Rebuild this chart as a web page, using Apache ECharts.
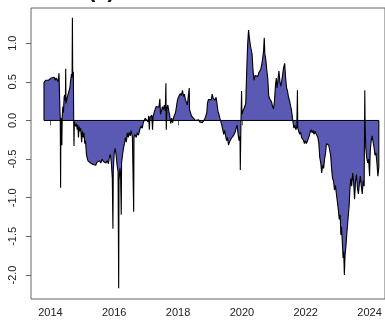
<!DOCTYPE html>
<html>
<head>
<meta charset="utf-8">
<script src="https://cdn.jsdelivr.net/npm/echarts@6/dist/echarts.min.js"></script>
<style>
  html, body { margin: 0; padding: 0; background: #fff; }
  #chart { width: 385px; height: 322px; }
</style>
</head>
<body>
<div id="chart"></div>
<script>
// Decimal-year time stamps of the index
const years = [
  2013.80, 2013.82, 2013.85, 2013.88, 2013.91, 2013.94, 2013.97, 2014.00, 2014.03, 2014.06,
  2014.09, 2014.12, 2014.15, 2014.18, 2014.21, 2014.24, 2014.26, 2014.27, 2014.28, 2014.30,
  2014.31, 2014.32, 2014.33, 2014.35, 2014.36, 2014.37, 2014.39, 2014.41, 2014.43, 2014.45,
  2014.47, 2014.48, 2014.49, 2014.51, 2014.53, 2014.56, 2014.58, 2014.61, 2014.63, 2014.66,
  2014.68, 2014.69, 2014.70, 2014.72, 2014.73, 2014.74, 2014.75, 2014.77, 2014.80, 2014.82,
  2014.84, 2014.86, 2014.88, 2014.90, 2014.93, 2014.95, 2014.98, 2015.00, 2015.03, 2015.05,
  2015.08, 2015.10, 2015.13, 2015.16, 2015.19, 2015.22, 2015.26, 2015.30, 2015.34, 2015.38,
  2015.42, 2015.46, 2015.50, 2015.54, 2015.58, 2015.62, 2015.66, 2015.70, 2015.74, 2015.78,
  2015.82, 2015.85, 2015.88, 2015.91, 2015.94, 2015.96, 2015.97, 2016.00, 2016.03, 2016.06,
  2016.09, 2016.12, 2016.14, 2016.15, 2016.18, 2016.20, 2016.22, 2016.23, 2016.26, 2016.29,
  2016.32, 2016.35, 2016.38, 2016.41, 2016.44, 2016.47, 2016.50, 2016.53, 2016.57, 2016.60,
  2016.61, 2016.62, 2016.65, 2016.69, 2016.72, 2016.76, 2016.80, 2016.84, 2016.88, 2016.91,
  2016.94, 2016.97, 2017.00, 2017.03, 2017.06, 2017.08, 2017.10, 2017.12, 2017.15, 2017.18,
  2017.20, 2017.22, 2017.25, 2017.28, 2017.31, 2017.34, 2017.37, 2017.40, 2017.43, 2017.45,
  2017.48, 2017.51, 2017.54, 2017.57, 2017.60, 2017.62, 2017.63, 2017.65, 2017.68, 2017.71,
  2017.74, 2017.77, 2017.80, 2017.83, 2017.86, 2017.89, 2017.92, 2017.95, 2017.98, 2018.01,
  2018.04, 2018.07, 2018.10, 2018.14, 2018.17, 2018.20, 2018.23, 2018.26, 2018.29, 2018.32,
  2018.35, 2018.36, 2018.39, 2018.42, 2018.45, 2018.48, 2018.51, 2018.54, 2018.57, 2018.60,
  2018.64, 2018.68, 2018.72, 2018.76, 2018.80, 2018.84, 2018.87, 2018.90, 2018.92, 2018.95,
  2018.98, 2019.01, 2019.04, 2019.07, 2019.10, 2019.13, 2019.16, 2019.19, 2019.22, 2019.25,
  2019.28, 2019.31, 2019.34, 2019.37, 2019.40, 2019.43, 2019.46, 2019.49, 2019.52, 2019.55,
  2019.58, 2019.61, 2019.64, 2019.67, 2019.70, 2019.73, 2019.76, 2019.79, 2019.82, 2019.85,
  2019.88, 2019.91, 2019.94, 2019.95, 2019.97, 2019.99, 2020.00, 2020.03, 2020.06, 2020.09,
  2020.12, 2020.14, 2020.16, 2020.18, 2020.20, 2020.21, 2020.23, 2020.25, 2020.27, 2020.29,
  2020.32, 2020.34, 2020.36, 2020.38, 2020.41, 2020.44, 2020.47, 2020.50, 2020.53, 2020.56,
  2020.59, 2020.62, 2020.65, 2020.68, 2020.70, 2020.72, 2020.75, 2020.78, 2020.81, 2020.84,
  2020.87, 2020.90, 2020.93, 2020.96, 2020.99, 2021.02, 2021.05, 2021.08, 2021.10, 2021.13,
  2021.16, 2021.19, 2021.22, 2021.25, 2021.28, 2021.30, 2021.34, 2021.37, 2021.40, 2021.43,
  2021.46, 2021.49, 2021.52, 2021.55, 2021.58, 2021.60, 2021.63, 2021.66, 2021.69, 2021.72,
  2021.74, 2021.75, 2021.78, 2021.81, 2021.84, 2021.87, 2021.90, 2021.93, 2021.96, 2021.99,
  2022.02, 2022.05, 2022.08, 2022.11, 2022.14, 2022.17, 2022.20, 2022.23, 2022.26, 2022.29,
  2022.32, 2022.35, 2022.38, 2022.41, 2022.44, 2022.47, 2022.50, 2022.53, 2022.56, 2022.59,
  2022.62, 2022.65, 2022.68, 2022.72, 2022.75, 2022.78, 2022.81, 2022.84, 2022.87, 2022.90,
  2022.93, 2022.96, 2022.99, 2023.02, 2023.05, 2023.08, 2023.10, 2023.12, 2023.15, 2023.17,
  2023.19, 2023.21, 2023.23, 2023.26, 2023.28, 2023.31, 2023.33, 2023.36, 2023.38, 2023.41,
  2023.44, 2023.47, 2023.50, 2023.53, 2023.56, 2023.59, 2023.62, 2023.65, 2023.68, 2023.71,
  2023.74, 2023.77, 2023.80, 2023.83, 2023.85, 2023.86, 2023.88, 2023.91, 2023.94, 2023.97,
  2024.00, 2024.02, 2024.05, 2024.08, 2024.11, 2024.14, 2024.17, 2024.20, 2024.23, 2024.26,
  2024.29
];

// Index value at each time stamp
const indexValues = [
  0.49, 0.50, 0.52, 0.51, 0.53, 0.52, 0.54, 0.52, 0.55, 0.54,
  0.53, 0.56, 0.52, 0.55, 0.54, 0.50, 0.52, 0.61, 0.46, 0.12,
  0.02, -0.87, -0.02, 0.03, -0.32, 0.04, 0.18, 0.10, 0.30, 0.33,
  0.25, 0.67, 0.22, 0.20, 0.30, 0.28, 0.38, 0.42, 0.50, 0.60,
  0.55, 1.33, 0.58, 0.63, 0.02, -0.33, -0.02, -0.05, -0.08, -0.04,
  -0.12, -0.06, -0.22, -0.08, -0.14, -0.10, -0.28, -0.14, -0.22, -0.16,
  -0.30, -0.26, -0.44, -0.50, -0.53, -0.51, -0.55, -0.53, -0.57, -0.55,
  -0.58, -0.54, -0.56, -0.52, -0.55, -0.50, -0.53, -0.51, -0.55, -0.52,
  -0.56, -0.47, -0.44, -0.55, -0.75, -1.40, -0.65, -0.42, -0.36, -0.45,
  -0.58, -0.66, -2.17, -0.78, -0.62, -0.70, -1.22, -0.55, -0.45, -0.36,
  -0.30, -0.22, -0.28, -0.16, -0.22, -0.15, -0.20, -0.13, -0.22, -0.20,
  -1.18, -0.22, -0.18, -0.22, -0.16, -0.19, -0.12, -0.07, -0.10, -0.03,
  -0.02, 0.03, 0.01, 0.05, -0.02, 0.06, -0.12, 0.04, 0.02, 0.07,
  -0.12, 0.05, 0.10, 0.14, 0.18, 0.16, 0.20, 0.17, 0.28, 0.08,
  0.12, 0.18, 0.14, 0.20, 0.12, 0.48, -0.12, 0.15, 0.20, 0.12,
  0.06, -0.04, 0.03, -0.03, 0.04, 0.02, 0.10, 0.18, 0.26, 0.30,
  0.28, 0.35, 0.32, 0.39, 0.31, 0.34, 0.27, 0.29, 0.20, 0.22,
  0.42, 0.14, 0.10, 0.06, 0.08, 0.03, 0.05, 0.00, 0.02, -0.01,
  0.01, -0.02, 0.00, -0.03, -0.01, 0.02, 0.00, 0.10, 0.22, 0.27,
  0.25, 0.29, 0.27, 0.34, 0.29, 0.30, 0.26, 0.30, 0.22, 0.12,
  0.08, 0.03, 0.04, -0.06, -0.12, -0.18, -0.13, -0.20, -0.26, -0.22,
  -0.32, -0.28, -0.26, -0.23, -0.25, -0.20, -0.22, -0.15, -0.10, -0.06,
  -0.18, -0.26, -0.20, -0.64, -0.04, 0.38, 0.08, 0.12, 0.14, 0.18,
  0.22, 0.50, 0.75, 0.98, 1.12, 1.17, 1.08, 1.02, 0.96, 0.98,
  0.86, 0.70, 0.60, 0.52, 0.58, 0.56, 0.58, 0.57, 0.62, 0.60,
  0.66, 0.72, 0.80, 0.90, 1.07, 0.86, 0.78, 0.65, 0.55, 0.32,
  0.28, 0.30, 0.24, 0.18, 0.15, 0.25, 0.45, 0.55, 0.42, 0.52,
  0.64, 0.50, 0.44, 0.52, 0.60, 0.67, 0.74, 0.55, 0.42, 0.38,
  0.30, 0.26, 0.20, 0.14, 0.05, -0.02, -0.10, -0.06, -0.12, -0.08,
  0.39, -0.10, -0.14, -0.18, -0.15, -0.22, -0.20, -0.26, -0.30, -0.26,
  -0.30, -0.27, -0.28, -0.20, -0.15, -0.12, -0.16, -0.13, -0.18, -0.14,
  -0.17, -0.16, -0.22, -0.30, -0.48, -0.55, -0.68, -0.58, -0.62, -0.50,
  -0.42, -0.30, -0.28, -0.32, -0.30, -0.45, -0.62, -0.75, -0.78, -0.90,
  -0.84, -0.95, -1.05, -1.15, -1.28, -1.22, -1.48, -1.38, -1.60, -1.78,
  -1.70, -2.00, -1.75, -1.62, -1.50, -1.35, -1.25, -1.10, -0.92, -0.75,
  -0.85, -0.68, -0.80, -1.02, -0.78, -0.70, -0.88, -0.95, -0.82, -0.72,
  -0.85, -0.95, -0.78, -0.85, 0.39, -0.05, -0.35, -0.48, -0.55, -0.50,
  -0.72, -0.40, -0.26, -0.20, -0.28, -0.35, -0.45, -0.42, -0.55, -0.72,
  -0.60
];

const xTickValues = [2014, 2016, 2018, 2020, 2022, 2024];
const yTickValues = [-2, -1.5, -1, -0.5, 0, 0.5, 1];

const first = years[0];
const last = years[years.length - 1];

// Closed outline: drop to zero at both ends like a filled polygon
const outline = [[first, 0]];
for (let i = 0; i < years.length; i++) outline.push([years[i], indexValues[i]]);
outline.push([last, 0]);

const axisGrey = '#666';
const textColor = '#222';
const font = 'Liberation Sans, Arial, sans-serif';

const chart = echarts.init(document.getElementById('chart'), null, { renderer: 'canvas' });
chart.setOption({
  animation: false,
  backgroundColor: '#fff',
  graphic: [{
    type: 'text',
    left: 88,
    top: -20,
    style: {
      text: '(c)',
      font: 'bold 22px Liberation Sans, Arial, sans-serif',
      fill: '#111'
    }
  }],
  grid: {
    left: 31, top: 8, width: 356, height: 291,
    show: true, borderColor: axisGrey, borderWidth: 1, backgroundColor: 'transparent'
  },
  xAxis: {
    type: 'value',
    min: 2013.393, max: 2024.483,
    axisLine: { show: false },
    splitLine: { show: false },
    axisTick: {
      show: true, inside: false, length: 5,
      customValues: xTickValues,
      lineStyle: { color: axisGrey, width: 1 }
    },
    axisLabel: {
      customValues: xTickValues,
      formatter: v => String(Math.round(v)),
      fontSize: 11, fontFamily: font, color: textColor, margin: 8
    }
  },
  yAxis: {
    type: 'value',
    min: -2.31, max: 1.455,
    axisLine: { show: false },
    splitLine: { show: false },
    axisTick: {
      show: true, inside: false, length: 5,
      customValues: yTickValues,
      lineStyle: { color: axisGrey, width: 1 }
    },
    axisLabel: {
      customValues: yTickValues,
      rotate: 90,
      formatter: v => v.toFixed(1),
      fontSize: 11, fontFamily: font, color: textColor, margin: 13
    }
  },
  series: [
    {
      type: 'line',
      data: outline,
      symbol: 'none',
      lineStyle: { color: '#000', width: 1.1 },
      areaStyle: { color: '#5a5ab4', opacity: 1, origin: 0 },
      z: 2
    },
    {
      type: 'line',
      data: [[first, 0], [last, 0]],
      symbol: 'none',
      lineStyle: { color: '#000', width: 1 },
      z: 3
    }
  ]
});
</script>
</body>
</html>
